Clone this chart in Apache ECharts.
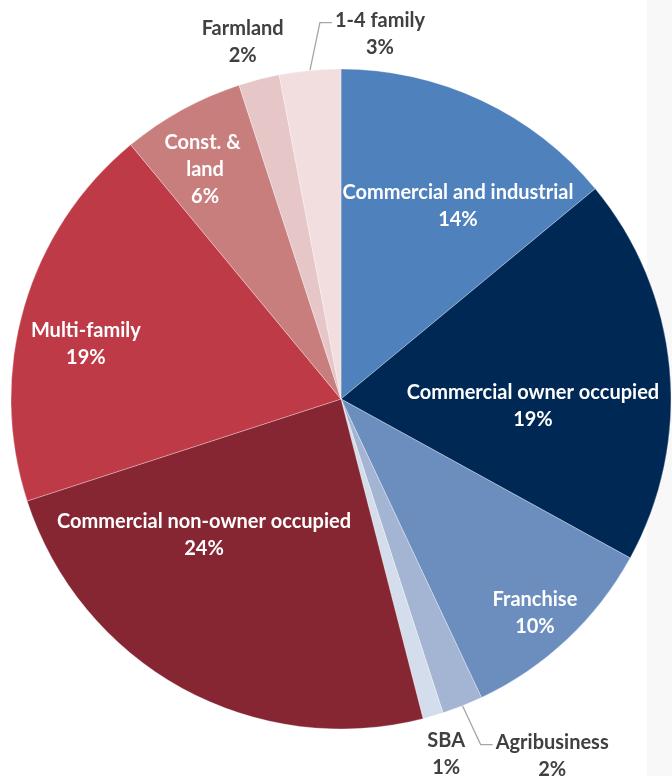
<!DOCTYPE html>
<html><head><meta charset="utf-8">
<script src="https://cdn.jsdelivr.net/npm/echarts@6/dist/echarts.min.js"></script>
<style>html,body{margin:0;padding:0;background:#fff}#c{width:672px;height:776px}</style>
</head><body><div id="c"></div>
<script>
// ---- data ----
const categories = ["Commercial and industrial","Commercial owner occupied","Franchise","Agribusiness","SBA","Commercial non-owner occupied","Multi-family","Const. & land","Farmland","1-4 family"];
const shares = [14, 19, 10, 2, 1, 24, 19, 6, 2, 3];

// ---- styles / layout ----
const colors = ["#4F81BD","#002855","#6C8EBF","#A3B5D3","#D3DDEB","#862633","#BE3A46","#C97E7E","#E6C6C7","#F2DEDF"];
const outsideIdx = [3, 4, 8, 9];
const leaderIdx = [3, 9];
// label placement in polar terms: [angle clockwise from 12 o'clock (deg), fraction of radius]
const labelPolar = [[31.2,.684],[92.1,.582],[137.8,.875],[149.4,1.257],[163.5,1.122],[225.2,.585],[282.2,.791],[329.3,.807],[344.6,1.122],[6.1,1.112]];
const CX = 341, CY = 399, R = 330, LH = 27;
const total = shares.reduce((a,b)=>a+b,0);
function midAngle(i){ let s=0; for(let k=0;k<i;k++) s+=shares[k]; return (s+shares[i]/2)/total*2*Math.PI; }

const chart = echarts.init(document.getElementById('c'), null, {renderer:'canvas'});
const data = categories.map((n,i)=>{
  const d = {name:n, value:shares[i], itemStyle:{color:colors[i]}};
  if (outsideIdx.includes(i)) {
    d.label = {position:'outside', color:'#404040'};
    d.labelLine = {show: leaderIdx.includes(i), lineStyle:{color:'#A6A6A6', width:1.3}};
  }
  if (n === 'Const. & land') d.label = {width:90, overflow:'break'};
  return d;
});
chart.setOption({
  animation:false,
  backgroundColor:'#ffffff',
  graphic:[{type:'rect', z:0, silent:true, shape:{x:647,y:0,width:25,height:776}, style:{fill:'#f8f8f8'}}],
  series:[{
    type:'pie', z:5,
    center:[CX, CY], radius:R, startAngle:90, clockwise:true,
    avoidLabelOverlap:false,
    itemStyle:{borderColor:'rgba(255,255,255,0.5)', borderWidth:0.6},
    emphasis:{disabled:true},
    label:{
      show:true, position:'inside', color:'#ffffff',
      fontFamily:'Lato', fontWeight:'bold', fontSize:20, lineHeight:LH,
      align:'center',
      formatter:(p)=> p.name + '\n' + p.value + '%'
    },
    labelLine:{show:false},
    labelLayout:function(p){
      const i = p.dataIndex;
      const a = labelPolar[i][0]*Math.PI/180, f = labelPolar[i][1];
      const x = CX + R*f*Math.sin(a), y = CY - R*f*Math.cos(a);
      const out = {x:x, y:y, align:'center', verticalAlign:'middle'};
      if (leaderIdx.includes(i)) {
        const m = midAngle(i);
        const sx = CX + R*Math.sin(m), sy = CY - R*Math.cos(m);
        const ty = y - LH/2 + 2, tx = x - p.labelRect.width/2 - 3;
        out.labelLinePoints = [[sx,sy],[tx-12,ty],[tx,ty]];
      }
      return out;
    },
    data:data
  }]
});
</script></body></html>
